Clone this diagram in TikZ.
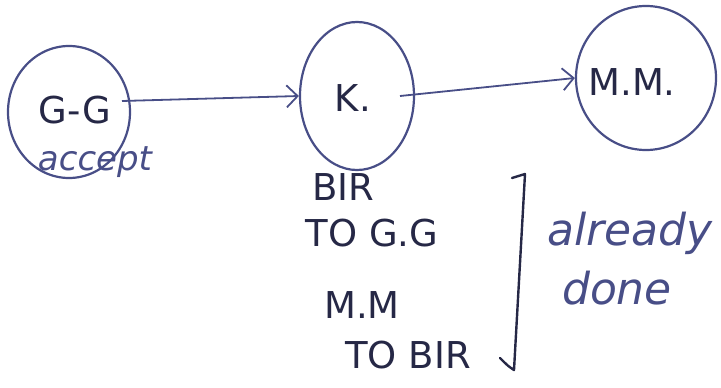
\documentclass[tikz,border=0pt]{standalone}
\usepackage{fontspec}
\setmainfont{DejaVu Sans}
\usetikzlibrary{shapes.geometric,arrows.meta}
\definecolor{ink}{RGB}{72,78,135}
\definecolor{darkink}{RGB}{38,40,70}
\tikzset{
  bubble/.style={ellipse, draw=ink, line width=2.2pt, inner sep=0pt},
  link/.style={draw=ink, line width=1.8pt, -{Straight Barb[length=11pt,width=22pt]}},
  hand/.style={text=darkink, font=\fontsize{37}{40}\selectfont, inner sep=0pt},
  note/.style={text=ink, font=\fontsize{44}{46}\selectfont\itshape, inner sep=0pt},
}
\begin{document}
\begin{tikzpicture}[x=1pt,y=-1pt]
  \useasboundingbox (0,0) rectangle (721,388);
  % the three states
  \node[bubble, minimum width=122pt, minimum height=132pt] (gg) at (69,112) {};
  \node[bubble, minimum width=114pt, minimum height=148pt] (k) at (357,96) {};
  \node[bubble, minimum width=140pt, minimum height=144pt] (mm) at (646,78) {};
  \node[hand] (ggl) at (75,110) {G-G};
  \node[hand] (kl) at (353,98) {K.};
  \node[hand] (mml) at (632,82) {M.M.};
  % transitions
  \coordinate (gout) at (122,101);
  \coordinate (kout) at (400,96);
  \draw[link] (gout) -- (k.west);
  \draw[link] (kout) -- (mm.west);
  % annotations
  \node[note, font=\fontsize{34}{36}\selectfont\itshape] (acc) at (95,162) {accept};
  \node[hand] (bir) at (343,187) {BIR};
  \node[hand] (togg) at (372,233) {TO G.G};
  \node[hand] (mmn) at (362,305) {M.M};
  \node[hand] (tobir) at (408,355) {TO BIR};
  % bracket
  \coordinate (btop) at (512,178);
  \coordinate (bbot) at (500,358);
  \draw[darkink, line width=2.4pt, line cap=round, line join=round]
    (btop) -- (525,174) -- (514,370) .. controls (508,366) .. (bbot);
  \node[note] (alr) at (630,233) {already};
  \node[note] (done) at (617,288) {done};
\end{tikzpicture}
\end{document}
